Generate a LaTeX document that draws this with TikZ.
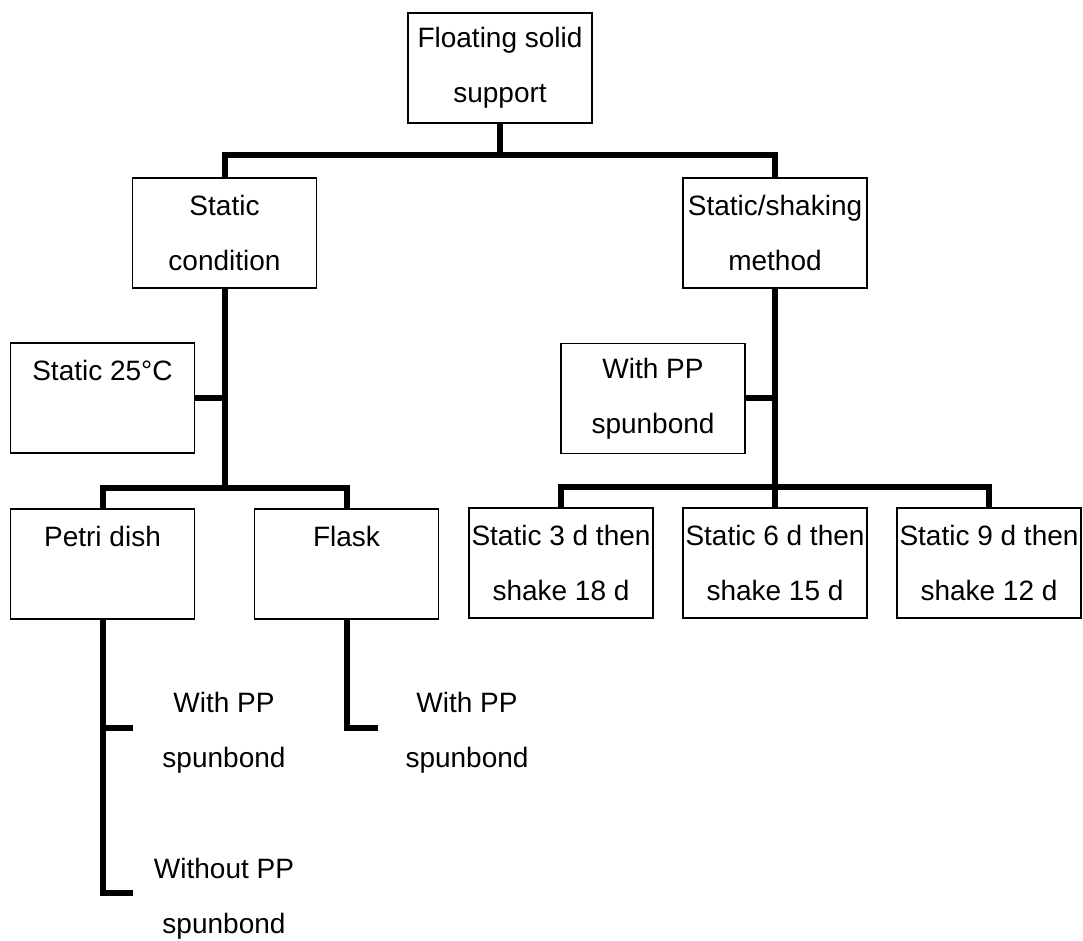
\documentclass[tikz,border=0pt]{standalone}
\usepackage{fontspec}
\setmainfont{Liberation Sans}
\begin{document}
\begin{tikzpicture}[x=0.5pt,y=-0.5pt,
  box/.style={draw=black,line width=0.8pt,rectangle,inner sep=0pt,
    minimum width=92pt,minimum height=55pt,align=center,
    font=\fontsize{14}{27.5}\selectfont},
  note/.style={inner sep=0pt,align=center,font=\fontsize{14}{27.5}\selectfont},
  conn/.style={black,line width=3pt}]
\useasboundingbox (0,0) rectangle (1083,941);
% boxes
\node[box] (top) at (500,68) {Floating solid\\support};
\node[box] (static) at (224.5,233) {Static\\condition};
\node[box] (shake) at (775,233) {Static/shaking\\method};
\node[box] (s25) at (102.5,398) {Static 25°C\\\mbox{}};
\node[box] (wpp) at (653,398.5) {With PP\\spunbond};
\node[box] (petri) at (102.5,564) {Petri dish\\\mbox{}};
\node[box] (flask) at (346.5,564) {Flask\\\mbox{}};
\node[box] (r1) at (561,563) {Static 3 d then\\shake 18 d};
\node[box] (r2) at (775,563) {Static 6 d then\\shake 15 d};
\node[box] (r3) at (989,563) {Static 9 d then\\shake 12 d};
% free labels
\node[note] (pwith) at (224,733) {With PP\\spunbond};
\node[note] (pwithout) at (224,899) {Without PP\\spunbond};
\node[note] (fwith) at (467,733) {With PP\\spunbond};
% junctions
\coordinate (j1) at (500,155);
\coordinate (j2) at (224.5,488);
\coordinate (j3) at (775,487);
\coordinate (pb1) at (133,728);
\coordinate (pb2) at (133,893);
\coordinate (fb) at (378,728);
% connectors
\draw[conn] (top.south) -- (j1);
\draw[conn] (static.north) |- (j1) -| (shake.north);
\draw[conn] (static.south) -- (j2);
\draw[conn] (s25.east) -- (s25.east -| static.south);
\draw[conn] (petri.north) |- (j2) -| (flask.north);
\draw[conn] (petri.south) |- (pb2);
\draw[conn] (pb1 -| petri.south) -- (pb1);
\draw[conn] (flask.south) |- (fb);
\draw[conn] (shake.south) -- (j3);
\draw[conn] (wpp.east) -- (wpp.east -| shake.south);
\draw[conn] (r1.north) |- (j3) -| (r3.north);
\draw[conn] (r2.north) -- (j3);
\end{tikzpicture}
\end{document}
